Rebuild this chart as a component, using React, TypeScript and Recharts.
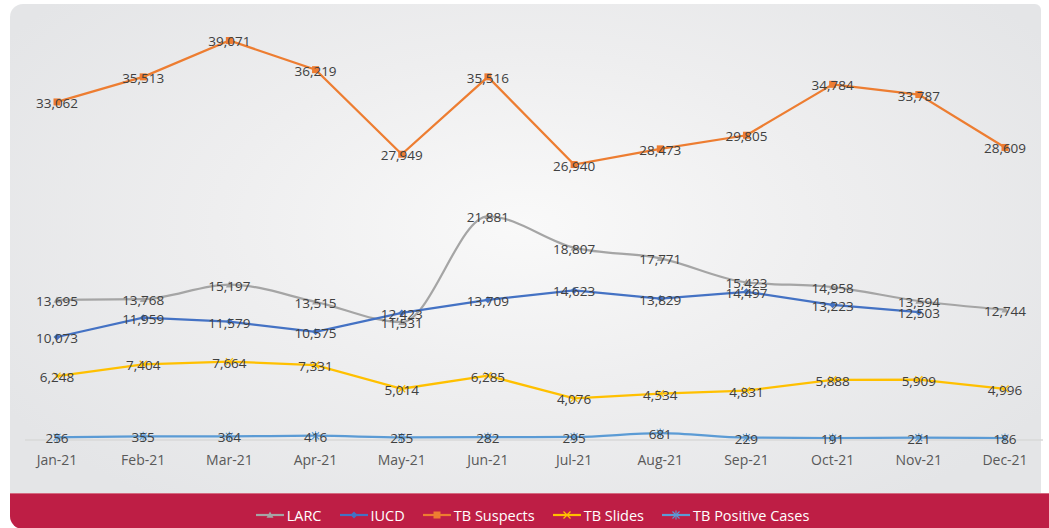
import React from 'react';
import { LineChart, Line, XAxis, YAxis, LabelList } from 'recharts';

const months = ['Jan-21', 'Feb-21', 'Mar-21', 'Apr-21', 'May-21', 'Jun-21', 'Jul-21', 'Aug-21', 'Sep-21', 'Oct-21', 'Nov-21', 'Dec-21'];
const larc = [13695, 13768, 15197, 13515, 11531, 21881, 18807, 17771, 15423, 14958, 13594, 12744];
const iucd: (number | null)[] = [10073, 11959, 11579, 10575, 12423, 13709, 14623, 13829, 14497, 13223, 12503, null];
const tbSuspects = [33062, 35513, 39071, 36219, 27949, 35516, 26940, 28473, 29805, 34784, 33787, 28609];
const tbSlides = [6248, 7404, 7664, 7331, 5014, 6285, 4076, 4534, 4831, 5888, 5909, 4996];
const tbPositive = [256, 355, 364, 416, 255, 282, 295, 681, 229, 191, 221, 186];

const data = months.map((m, i) => ({
  month: m,
  larc: larc[i],
  iucd: iucd[i],
  tbSuspects: tbSuspects[i],
  tbSlides: tbSlides[i],
  tbPositive: tbPositive[i],
}));

const FONT = '"Open Sans", "Noto Sans", sans-serif';

const seriesInfo = [
  { key: 'larc', name: 'LARC', color: '#a5a5a5', marker: 'triangle' },
  { key: 'iucd', name: 'IUCD', color: '#4472c4', marker: 'diamond' },
  { key: 'tbSuspects', name: 'TB Suspects', color: '#ed7d31', marker: 'square' },
  { key: 'tbSlides', name: 'TB Slides', color: '#ffc000', marker: 'x' },
  { key: 'tbPositive', name: 'TB Positive Cases', color: '#5b9bd5', marker: 'star' },
];

const Marker = ({ type, cx, cy, color }: { type: string; cx: number; cy: number; color: string }) => {
  if (cx == null || cy == null) return null;
  const s = 3.5;
  switch (type) {
    case 'triangle':
      return <polygon points={`${cx},${cy - s} ${cx + s},${cy + s * 0.8} ${cx - s},${cy + s * 0.8}`} fill={color} />;
    case 'diamond':
      return <polygon points={`${cx},${cy - s} ${cx + s},${cy} ${cx},${cy + s} ${cx - s},${cy}`} fill={color} />;
    case 'square':
      return <rect x={cx - s} y={cy - s} width={s * 2} height={s * 2} fill={color} />;
    case 'x':
      return (
        <g stroke={color} strokeWidth={1.2}>
          <line x1={cx - s} y1={cy - s} x2={cx + s} y2={cy + s} />
          <line x1={cx - s} y1={cy + s} x2={cx + s} y2={cy - s} />
        </g>
      );
    case 'star':
      return (
        <g stroke={color} strokeWidth={1.1}>
          <line x1={cx - s} y1={cy - s} x2={cx + s} y2={cy + s} />
          <line x1={cx - s} y1={cy + s} x2={cx + s} y2={cy - s} />
          <line x1={cx} y1={cy - s - 1} x2={cx} y2={cy + s + 1} />
        </g>
      );
    default:
      return null;
  }
};

const makeDot = (type: string, color: string) => (props: any) => {
  const { cx, cy, index, value } = props;
  if (value == null || cx == null || cy == null) return <g key={index} />;
  return <g key={index}><Marker type={type} cx={cx} cy={cy} color={color} /></g>;
};

const renderLabel = (props: any) => {
  const { x, y, value, index } = props;
  if (value == null) return null;
  return (
    <text
      key={index}
      x={x}
      y={y + 1}
      textAnchor="middle"
      dominantBaseline="central"
      fontFamily={FONT}
      fontSize={13.5}
      fill="#404040"
    >
      {Number(value).toLocaleString('en-US')}
    </text>
  );
};

const LegendBar = () => (
  <div
    style={{
      position: 'absolute',
      left: 0,
      top: 503,
      width: 1049,
      height: 24,
      display: 'flex',
      justifyContent: 'center',
      alignItems: 'center',
      fontFamily: FONT,
      fontSize: 14.5,
      color: '#ffffff',
      gap: 18,
      paddingLeft: 16,
      boxSizing: 'border-box',
    }}
  >
    {seriesInfo.map((s) => (
      <div key={s.key} style={{ display: 'flex', alignItems: 'center' }}>
        <svg width={28} height={14} style={{ marginRight: 3 }}>
          <line x1={0} y1={7} x2={28} y2={7} stroke={s.color} strokeWidth={2.2} />
          <Marker type={s.marker} cx={14} cy={7} color={s.color} />
        </svg>
        <span>{s.name}</span>
      </div>
    ))}
  </div>
);

export default function App() {
  return (
    <div style={{ position: 'absolute', left: 0, top: 0, width: 1049, height: 528, background: '#ffffff', overflow: 'hidden' }}>
      <div
        style={{
          position: 'absolute',
          left: 10,
          top: 4,
          width: 1031,
          height: 490,
          borderTopLeftRadius: 13,
          borderTopRightRadius: 6,
          background: 'radial-gradient(ellipse 60% 70% at 50% 45%, #f9f9f9 0%, #eeeeef 50%, #e4e5e7 100%)',
        }}
      />
      <div
        style={{
          position: 'absolute',
          left: 10,
          top: 493,
          width: 1039,
          height: 35,
          borderBottomLeftRadius: 13,
          background: '#be1e45',
          borderTop: '1px solid #d46a80',
        }}
      />
      <div style={{ position: 'absolute', left: 0, top: 0 }}>
        <LineChart width={1049} height={528} data={data} margin={{ top: 31, right: 6, bottom: 58, left: 25 }}>
          <XAxis
            dataKey="month"
            height={30}
            padding={{ left: 32, right: 38 }}
            axisLine={{ stroke: '#d9d9d9', strokeWidth: 1.5 }}
            tickLine={false}
            tickSize={0}
            tickMargin={15}
            interval={0}
            tick={{ fontFamily: FONT, fontSize: 14, fill: '#595959' }}
          />
          <YAxis hide domain={[0, 40000]} />
          <Line
            type="monotone"
            dataKey="larc"
            name="LARC"
            stroke="#a5a5a5"
            strokeWidth={2.25}
            dot={makeDot('triangle', '#a5a5a5')}
            isAnimationActive={false}
          >
            <LabelList dataKey="larc" content={renderLabel} />
          </Line>
          <Line
            type="linear"
            dataKey="iucd"
            name="IUCD"
            stroke="#4472c4"
            strokeWidth={2.25}
            dot={makeDot('diamond', '#4472c4')}
            isAnimationActive={false}
          >
            <LabelList dataKey="iucd" content={renderLabel} />
          </Line>
          <Line
            type="linear"
            dataKey="tbSuspects"
            name="TB Suspects"
            stroke="#ed7d31"
            strokeWidth={2.25}
            dot={makeDot('square', '#ed7d31')}
            isAnimationActive={false}
          >
            <LabelList dataKey="tbSuspects" content={renderLabel} />
          </Line>
          <Line
            type="linear"
            dataKey="tbSlides"
            name="TB Slides"
            stroke="#ffc000"
            strokeWidth={2.25}
            dot={makeDot('x', '#ffc000')}
            isAnimationActive={false}
          >
            <LabelList dataKey="tbSlides" content={renderLabel} />
          </Line>
          <Line
            type="monotone"
            dataKey="tbPositive"
            name="TB Positive Cases"
            stroke="#5b9bd5"
            strokeWidth={2.25}
            dot={makeDot('star', '#5b9bd5')}
            isAnimationActive={false}
          >
            <LabelList dataKey="tbPositive" content={renderLabel} />
          </Line>
        </LineChart>
      </div>
      <LegendBar />
    </div>
  );
}
